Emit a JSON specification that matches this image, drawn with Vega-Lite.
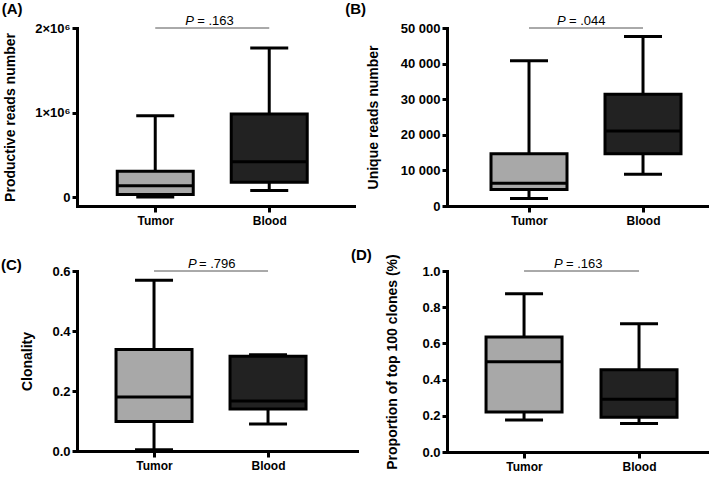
{
  "$schema": "https://vega.github.io/schema/vega-lite/v6.json",
  "padding": {"left": 0, "top": 2, "right": 0, "bottom": 0},
  "background": "white",
  "datasets": {
    "boxA": [
      {"group": "Tumor", "min": 0, "q1": 30000, "median": 134000, "q3": 305000, "max": 962000},
      {"group": "Blood", "min": 76000, "q1": 175000, "median": 418000, "q3": 982000, "max": 1763000}
    ],
    "boxB": [
      {"group": "Tumor", "min": 2100, "q1": 4600, "median": 6400, "q3": 14700, "max": 40800},
      {"group": "Blood", "min": 8900, "q1": 14700, "median": 21100, "q3": 31400, "max": 47600}
    ],
    "boxC": [
      {"group": "Tumor", "min": 0.004, "q1": 0.098, "median": 0.18, "q3": 0.338, "max": 0.569},
      {"group": "Blood", "min": 0.09, "q1": 0.14, "median": 0.167, "q3": 0.316, "max": 0.321}
    ],
    "boxD": [
      {"group": "Tumor", "min": 0.177, "q1": 0.221, "median": 0.499, "q3": 0.636, "max": 0.874},
      {"group": "Blood", "min": 0.157, "q1": 0.192, "median": 0.291, "q3": 0.455, "max": 0.709}
    ],
    "pA": [{"from": "Tumor", "to": "Blood", "label": "= .163"}],
    "pB": [{"from": "Tumor", "to": "Blood", "label": "= .044"}],
    "pC": [{"from": "Tumor", "to": "Blood", "label": "= .796"}],
    "pD": [{"from": "Tumor", "to": "Blood", "label": "= .163"}]
  },
  "concat": [
    {
      "width": 277, "height": 178,
      "title": {"text": "(A)", "dx": -2},
      "layer": [
        {"data": {"name": "boxA"}, "mark": {"type": "rule", "strokeWidth": 3, "color": "black"},
         "encoding": {
           "x": {"field": "group", "type": "nominal", "scale": {"type": "point", "domain": ["Tumor", "Blood"], "padding": 0.715, "align": 0.48}, "axis": {"title": null}},
           "y": {"field": "min", "type": "quantitative", "scale": {"domain": [-106500, 2000000], "nice": false, "zero": false},
                 "axis": {"title": "Productive reads number", "titlePadding": 17, "labelOverlap": false, "tickCount": 10, "values": [0, 1000000, 2000000], "labelExpr": "datum.value == 0 ? '0' : format(datum.value / 1000000, 'd') + '×10⁶'"}},
           "y2": {"field": "max"}}},
        {"data": {"name": "boxA"}, "mark": {"type": "bar", "size": 76, "stroke": "black", "strokeWidth": 3},
         "encoding": {"x": {"field": "group", "type": "nominal"}, "y": {"field": "q1", "type": "quantitative"}, "y2": {"field": "q3"},
           "fill": {"field": "group", "type": "nominal", "scale": {"domain": ["Tumor", "Blood"], "range": ["#a8a8a8", "#222222"]}, "legend": null}}},
        {"data": {"name": "boxA"}, "mark": {"type": "tick", "size": 76, "thickness": 3, "color": "black", "opacity": 1},
         "encoding": {"x": {"field": "group", "type": "nominal"}, "y": {"field": "median", "type": "quantitative"}}},
        {"data": {"name": "boxA"}, "mark": {"type": "tick", "size": 38, "thickness": 3, "color": "black", "opacity": 1},
         "encoding": {"x": {"field": "group", "type": "nominal"}, "y": {"field": "min", "type": "quantitative"}}},
        {"data": {"name": "boxA"}, "mark": {"type": "tick", "size": 38, "thickness": 3, "color": "black", "opacity": 1},
         "encoding": {"x": {"field": "group", "type": "nominal"}, "y": {"field": "max", "type": "quantitative"}}},
        {"data": {"name": "pA"}, "mark": {"type": "rule", "strokeWidth": 1, "color": "#555555"},
         "encoding": {"x": {"field": "from", "type": "nominal"}, "x2": {"field": "to"}, "y": {"datum": 2000000, "type": "quantitative"}}},
        {"data": {"name": "pA"}, "mark": {"type": "text", "text": "P", "fontStyle": "italic", "fontSize": 13, "align": "left", "baseline": "alphabetic", "dx": 30, "dy": -3, "color": "black"},
         "encoding": {"x": {"field": "from", "type": "nominal"}, "y": {"datum": 2000000, "type": "quantitative"}}},
        {"data": {"name": "pA"}, "mark": {"type": "text", "fontSize": 13, "align": "left", "baseline": "alphabetic", "dx": 42, "dy": -3, "color": "black"},
         "encoding": {"x": {"field": "from", "type": "nominal"}, "y": {"datum": 2000000, "type": "quantitative"}, "text": {"field": "label"}}}
      ]
    },
    {
      "width": 267, "height": 178,
      "title": {"text": "(B)", "dx": -21},
      "layer": [
        {"data": {"name": "boxB"}, "mark": {"type": "rule", "strokeWidth": 3, "color": "black"},
         "encoding": {
           "x": {"field": "group", "type": "nominal", "scale": {"type": "point", "domain": ["Tumor", "Blood"], "padding": 0.671, "align": 0.536}, "axis": {"title": null}},
           "y": {"field": "min", "type": "quantitative", "scale": {"domain": [0, 50000], "nice": false, "zero": false},
                 "axis": {"title": "Unique reads number", "titlePadding": 20, "labelOverlap": false, "tickCount": 10, "values": [0, 10000, 20000, 30000, 40000, 50000], "labelExpr": "replace(format(datum.value, ','), ',', ' ')"}},
           "y2": {"field": "max"}}},
        {"data": {"name": "boxB"}, "mark": {"type": "bar", "size": 76, "stroke": "black", "strokeWidth": 3},
         "encoding": {"x": {"field": "group", "type": "nominal"}, "y": {"field": "q1", "type": "quantitative"}, "y2": {"field": "q3"},
           "fill": {"field": "group", "type": "nominal", "scale": {"domain": ["Tumor", "Blood"], "range": ["#a8a8a8", "#222222"]}, "legend": null}}},
        {"data": {"name": "boxB"}, "mark": {"type": "tick", "size": 76, "thickness": 3, "color": "black", "opacity": 1},
         "encoding": {"x": {"field": "group", "type": "nominal"}, "y": {"field": "median", "type": "quantitative"}}},
        {"data": {"name": "boxB"}, "mark": {"type": "tick", "size": 38, "thickness": 3, "color": "black", "opacity": 1},
         "encoding": {"x": {"field": "group", "type": "nominal"}, "y": {"field": "min", "type": "quantitative"}}},
        {"data": {"name": "boxB"}, "mark": {"type": "tick", "size": 38, "thickness": 3, "color": "black", "opacity": 1},
         "encoding": {"x": {"field": "group", "type": "nominal"}, "y": {"field": "max", "type": "quantitative"}}},
        {"data": {"name": "pB"}, "mark": {"type": "rule", "strokeWidth": 1, "color": "#555555"},
         "encoding": {"x": {"field": "from", "type": "nominal"}, "x2": {"field": "to"}, "y": {"datum": 50000, "type": "quantitative"}}},
        {"data": {"name": "pB"}, "mark": {"type": "text", "text": "P", "fontStyle": "italic", "fontSize": 13, "align": "left", "baseline": "alphabetic", "dx": 28, "dy": -3, "color": "black"},
         "encoding": {"x": {"field": "from", "type": "nominal"}, "y": {"datum": 50000, "type": "quantitative"}}},
        {"data": {"name": "pB"}, "mark": {"type": "text", "fontSize": 13, "align": "left", "baseline": "alphabetic", "dx": 40, "dy": -3, "color": "black"},
         "encoding": {"x": {"field": "from", "type": "nominal"}, "y": {"datum": 50000, "type": "quantitative"}, "text": {"field": "label"}}}
      ]
    },
    {
      "width": 280, "height": 180,
      "title": {"text": "(C)", "dx": -20, "dy": 13},
      "layer": [
        {"data": {"name": "boxC"}, "mark": {"type": "rule", "strokeWidth": 3, "color": "black"},
         "encoding": {
           "x": {"field": "group", "type": "nominal", "scale": {"type": "point", "domain": ["Tumor", "Blood"], "padding": 0.728, "align": 0.464}, "axis": {"title": null}},
           "y": {"field": "min", "type": "quantitative", "scale": {"domain": [0, 0.6], "nice": false, "zero": false},
                 "axis": {"title": "Clonality", "titlePadding": 17, "labelOverlap": false, "tickCount": 10, "values": [0, 0.2, 0.4, 0.6], "format": ".1f"}},
           "y2": {"field": "max"}}},
        {"data": {"name": "boxC"}, "mark": {"type": "bar", "size": 76, "stroke": "black", "strokeWidth": 3},
         "encoding": {"x": {"field": "group", "type": "nominal"}, "y": {"field": "q1", "type": "quantitative"}, "y2": {"field": "q3"},
           "fill": {"field": "group", "type": "nominal", "scale": {"domain": ["Tumor", "Blood"], "range": ["#a8a8a8", "#222222"]}, "legend": null}}},
        {"data": {"name": "boxC"}, "mark": {"type": "tick", "size": 76, "thickness": 3, "color": "black", "opacity": 1},
         "encoding": {"x": {"field": "group", "type": "nominal"}, "y": {"field": "median", "type": "quantitative"}}},
        {"data": {"name": "boxC"}, "mark": {"type": "tick", "size": 38, "thickness": 3, "color": "black", "opacity": 1},
         "encoding": {"x": {"field": "group", "type": "nominal"}, "y": {"field": "min", "type": "quantitative"}}},
        {"data": {"name": "boxC"}, "mark": {"type": "tick", "size": 38, "thickness": 3, "color": "black", "opacity": 1},
         "encoding": {"x": {"field": "group", "type": "nominal"}, "y": {"field": "max", "type": "quantitative"}}},
        {"data": {"name": "pC"}, "mark": {"type": "rule", "strokeWidth": 1, "color": "#555555"},
         "encoding": {"x": {"field": "from", "type": "nominal"}, "x2": {"field": "to"}, "y": {"datum": 0.6, "type": "quantitative"}}},
        {"data": {"name": "pC"}, "mark": {"type": "text", "text": "P", "fontStyle": "italic", "fontSize": 13, "align": "left", "baseline": "alphabetic", "dx": 34, "dy": -3, "color": "black"},
         "encoding": {"x": {"field": "from", "type": "nominal"}, "y": {"datum": 0.6, "type": "quantitative"}}},
        {"data": {"name": "pC"}, "mark": {"type": "text", "fontSize": 13, "align": "left", "baseline": "alphabetic", "dx": 45, "dy": -3, "color": "black"},
         "encoding": {"x": {"field": "from", "type": "nominal"}, "y": {"datum": 0.6, "type": "quantitative"}, "text": {"field": "label"}}}
      ]
    },
    {
      "width": 264, "height": 181,
      "title": {"text": "(D)", "dx": -35, "dy": 7},
      "layer": [
        {"data": {"name": "boxD"}, "mark": {"type": "rule", "strokeWidth": 3, "color": "black"},
         "encoding": {
           "x": {"field": "group", "type": "nominal", "scale": {"type": "point", "domain": ["Tumor", "Blood"], "padding": 0.648, "align": 0.517}, "axis": {"title": null}},
           "y": {"field": "min", "type": "quantitative", "scale": {"domain": [0, 1], "nice": false, "zero": false},
                 "axis": {"title": "Proportion of top 100 clones (%)", "titlePadding": 22, "labelOverlap": false, "tickCount": 10, "values": [0, 0.2, 0.4, 0.6, 0.8, 1.0], "format": ".1f"}},
           "y2": {"field": "max"}}},
        {"data": {"name": "boxD"}, "mark": {"type": "bar", "size": 76, "stroke": "black", "strokeWidth": 3},
         "encoding": {"x": {"field": "group", "type": "nominal"}, "y": {"field": "q1", "type": "quantitative"}, "y2": {"field": "q3"},
           "fill": {"field": "group", "type": "nominal", "scale": {"domain": ["Tumor", "Blood"], "range": ["#a8a8a8", "#222222"]}, "legend": null}}},
        {"data": {"name": "boxD"}, "mark": {"type": "tick", "size": 76, "thickness": 3, "color": "black", "opacity": 1},
         "encoding": {"x": {"field": "group", "type": "nominal"}, "y": {"field": "median", "type": "quantitative"}}},
        {"data": {"name": "boxD"}, "mark": {"type": "tick", "size": 38, "thickness": 3, "color": "black", "opacity": 1},
         "encoding": {"x": {"field": "group", "type": "nominal"}, "y": {"field": "min", "type": "quantitative"}}},
        {"data": {"name": "boxD"}, "mark": {"type": "tick", "size": 38, "thickness": 3, "color": "black", "opacity": 1},
         "encoding": {"x": {"field": "group", "type": "nominal"}, "y": {"field": "max", "type": "quantitative"}}},
        {"data": {"name": "pD"}, "mark": {"type": "rule", "strokeWidth": 1, "color": "#555555"},
         "encoding": {"x": {"field": "from", "type": "nominal"}, "x2": {"field": "to"}, "y": {"datum": 1, "type": "quantitative"}}},
        {"data": {"name": "pD"}, "mark": {"type": "text", "text": "P", "fontStyle": "italic", "fontSize": 13, "align": "left", "baseline": "alphabetic", "dx": 30, "dy": -3, "color": "black"},
         "encoding": {"x": {"field": "from", "type": "nominal"}, "y": {"datum": 1, "type": "quantitative"}}},
        {"data": {"name": "pD"}, "mark": {"type": "text", "fontSize": 13, "align": "left", "baseline": "alphabetic", "dx": 42, "dy": -3, "color": "black"},
         "encoding": {"x": {"field": "from", "type": "nominal"}, "y": {"datum": 1, "type": "quantitative"}, "text": {"field": "label"}}}
      ]
    }
  ],
  "columns": 2,
  "align": "none",
  "bounds": "flush",
  "spacing": {"row": 65, "column": 90},
  "config": {
    "font": "Liberation Sans",
    "view": {"stroke": null},
    "axis": {
      "domainColor": "black", "domainWidth": 3, "domainCap": "square",
      "tickColor": "black", "tickWidth": 3, "tickSize": 6,
      "labelFont": "Liberation Sans", "labelFontWeight": "bold", "labelFontSize": 12, "labelColor": "black",
      "labelOverlap": false, "labelBound": false, "labelFlush": false,
      "titleFont": "Liberation Sans", "titleFontWeight": "bold", "titleFontSize": 14, "titleColor": "black",
      "grid": false
    },
    "axisX": {"labelAngle": 0, "labelPadding": 3},
    "axisY": {"labelPadding": 2, "tickSize": 5, "labelFontSize": 13},
    "title": {"anchor": "start", "frame": "bounds", "fontSize": 15, "fontWeight": "bold", "color": "black", "font": "Liberation Sans", "offset": -2}
  }
}
